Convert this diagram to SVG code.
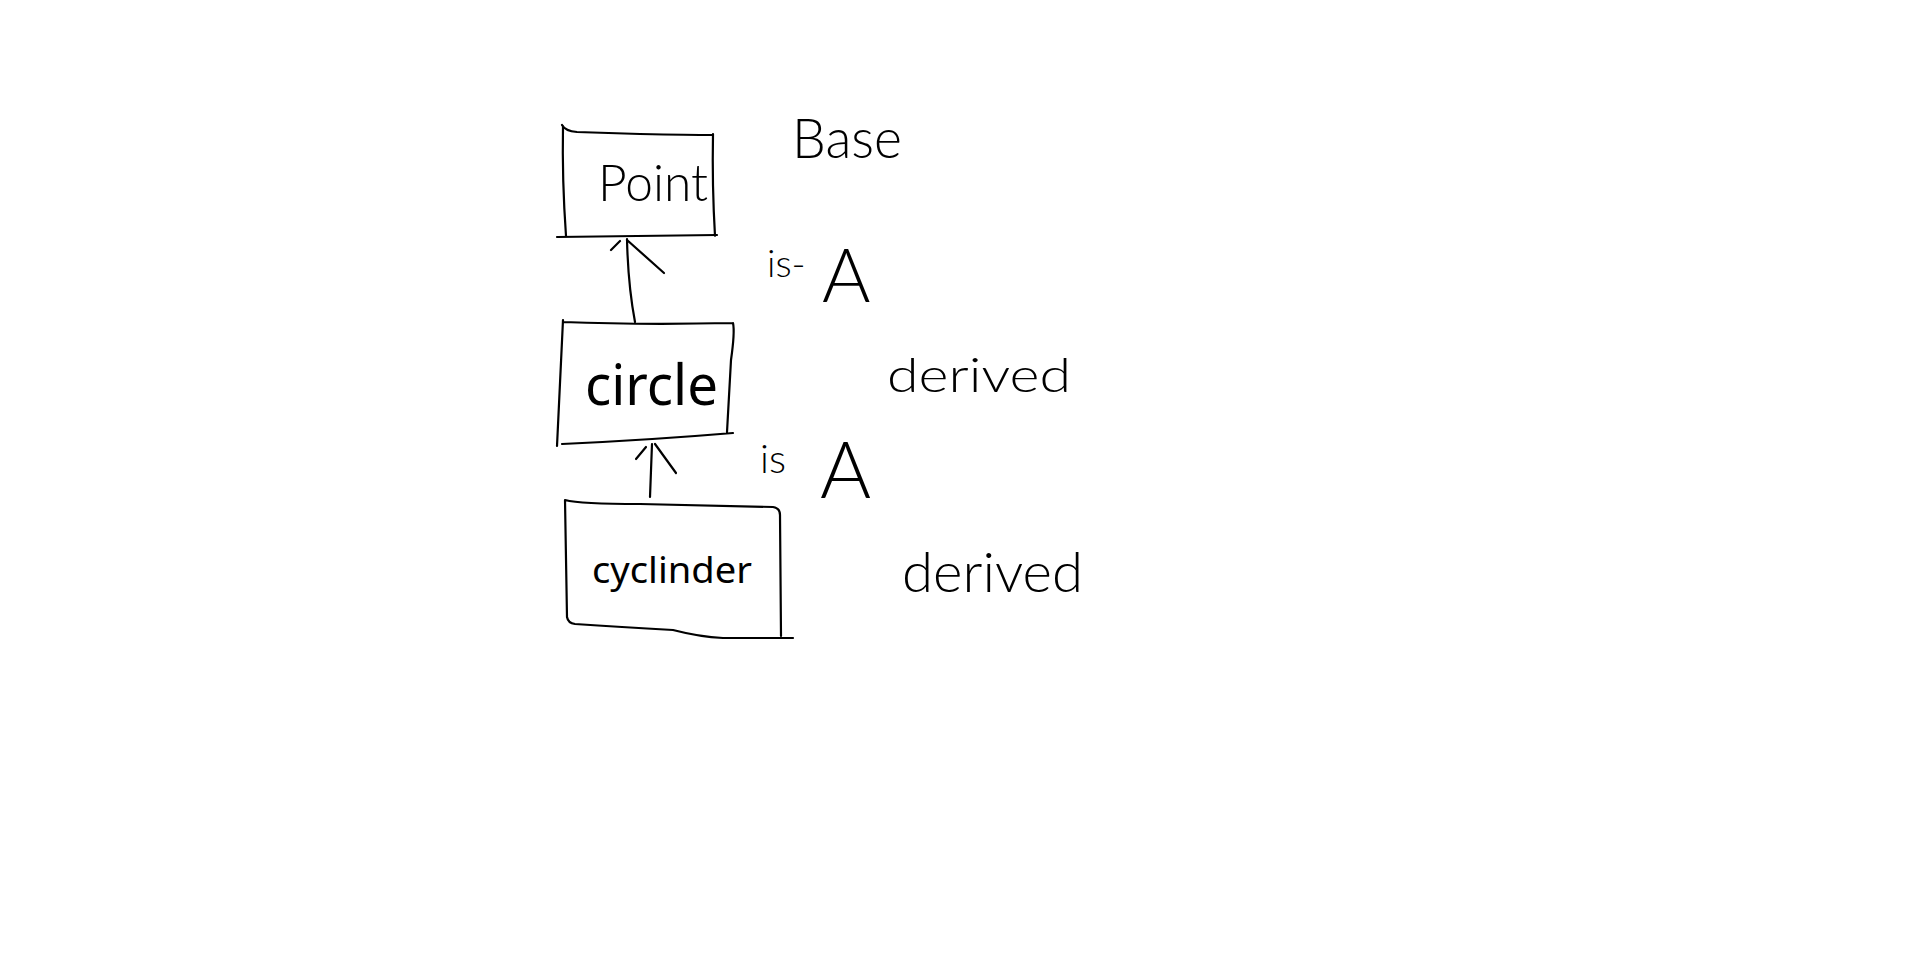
<svg xmlns="http://www.w3.org/2000/svg" width="1920" height="969" viewBox="0 0 1920 969">
<style>
.ink{fill:none;stroke:#000;stroke-width:2.2;stroke-linecap:round;stroke-linejoin:round}
.hand{font-family:Lato,"Open Sans","Liberation Sans",sans-serif;font-weight:300;fill:#000}
.typed{font-family:"Noto Sans","Open Sans","Liberation Sans",sans-serif;font-weight:400;fill:#000}
</style>
<rect width="1920" height="969" fill="#fff"/>
<g id="node-point">
<path class="ink" d="M562,125 Q565,131 577,132 L640,134 Q690,135 713,135 M713,134 Q712,185 715,236 M563,126 Q562,180 566,236 M557,237 L717,235"/>
<text class="hand" x="598" y="201" font-size="52" textLength="110" lengthAdjust="spacingAndGlyphs">Point</text>
</g>
<g id="label-base">
<text class="hand" x="792" y="158" font-size="56" textLength="110" lengthAdjust="spacingAndGlyphs">Base</text>
</g>
<g id="node-circle">
<path class="ink" d="M563,322 Q640,325 733,323 M733,323 Q735,332 731,360 L727,432 M563,320 Q560,380 557,446 M562,444 Q650,440 733,433"/>
<text class="typed" x="585" y="405" font-size="57" textLength="133" lengthAdjust="spacingAndGlyphs">circle</text>
</g>
<g id="label-derived-1">
<text class="hand" x="887" y="392" font-size="48" textLength="184" lengthAdjust="spacingAndGlyphs">derived</text>
</g>
<g id="node-cyclinder">
<path class="ink" d="M565,500 Q580,504 640,504 L773,507 Q780,508 780,515 L781,636 M565,500 L567,617 Q568,623 575,624 Q620,627 673,630 Q700,637 723,638 L793,638"/>
<text class="typed" x="592" y="583" font-size="37" textLength="160" lengthAdjust="spacingAndGlyphs">cyclinder</text>
</g>
<g id="label-derived-2">
<text class="hand" x="902" y="592" font-size="56" textLength="181" lengthAdjust="spacingAndGlyphs">derived</text>
</g>
<g id="connectors">
<g id="edge-circle-point">
<path class="ink" d="M635,322 Q628,285 627,239 M611,250 L620,241 M627,240 L664,273"/>
<text class="hand" x="767" y="277"><tspan font-size="38">is-</tspan><tspan x="822" y="302" font-size="74">A</tspan></text>
</g>
<g id="edge-cyclinder-circle">
<path class="ink" d="M650,497 L652,444 M636,459 L646,447 M655,444 L676,473"/>
<text class="hand" x="760" y="473"><tspan font-size="40">is</tspan><tspan x="820" y="498" font-size="78">A</tspan></text>
</g>
</g>
</svg>
